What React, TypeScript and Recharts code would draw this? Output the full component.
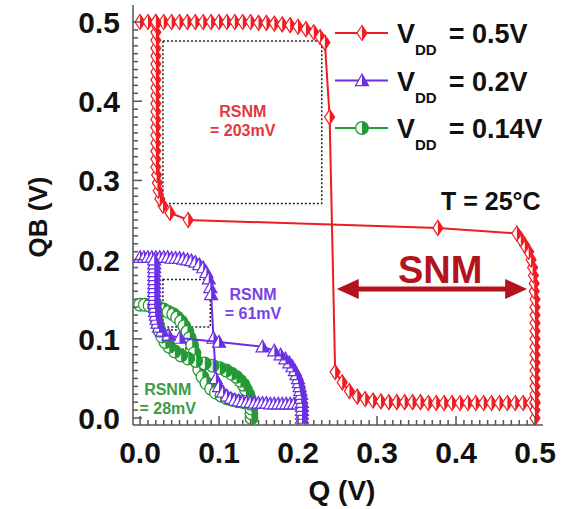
import { ScatterChart, Scatter, XAxis, YAxis, ReferenceArea, ReferenceLine, ReferenceDot, Legend } from "recharts";

const FONT = "'Liberation Sans', Arial, Helvetica, sans-serif";
const RED = "#ee1d23";
const PURPLE = "#6a2fe4";
const GREEN = "#249a36";
const SNM_RED = "#b3131c";
const FRAME = "#555555";

// axis ticks
const majorTicks = [0, 0.1, 0.2, 0.3, 0.4, 0.5];
const tickLabels = ["0.0", "0.1", "0.2", "0.3", "0.4", "0.5"];
const allTicks = Array.from({ length: 51 }, (_, i) => Math.round(i) / 100);
const X_DOMAIN = [-0.0089, 0.5101];
const Y_DOMAIN = [-0.0088, 0.5215];

// legend order
const vddLabels = ["0.5V", "0.2V", "0.14V"];

// VDD = 0.5V : QB = f(Q) and Q = g(QB)
const red1 = [
  [0, 0.5], [0.01, 0.5], [0.02, 0.5], [0.03, 0.5], [0.04, 0.5], [0.05, 0.5], [0.06, 0.5], [0.07, 0.5],
  [0.08, 0.5], [0.09, 0.5], [0.1, 0.5], [0.11, 0.5], [0.12, 0.5], [0.13, 0.5], [0.14, 0.5], [0.15, 0.499],
  [0.16, 0.499], [0.17, 0.498], [0.18, 0.497], [0.19, 0.496], [0.2, 0.494], [0.21, 0.491], [0.22, 0.487],
  [0.228, 0.481], [0.234, 0.474], [0.24, 0.38], [0.247, 0.058], [0.256, 0.045], [0.265, 0.034],
  [0.275, 0.027], [0.285, 0.024], [0.295, 0.022], [0.305, 0.021], [0.315, 0.02], [0.325, 0.02],
  [0.335, 0.02], [0.345, 0.02], [0.355, 0.02], [0.365, 0.019], [0.375, 0.019], [0.385, 0.019],
  [0.395, 0.019], [0.405, 0.019], [0.415, 0.019], [0.425, 0.019], [0.435, 0.019], [0.445, 0.019],
  [0.455, 0.019], [0.465, 0.019], [0.475, 0.019], [0.485, 0.019], [0.495, 0.019], [0.5, 0.019],
];
const red2 = [
  [0.5, 0], [0.5, 0.01], [0.5, 0.02], [0.5, 0.03], [0.5, 0.04], [0.5, 0.05], [0.5, 0.06], [0.5, 0.07],
  [0.5, 0.08], [0.5, 0.09], [0.5, 0.1], [0.5, 0.11], [0.5, 0.12], [0.5, 0.13], [0.5, 0.14], [0.5, 0.15],
  [0.499, 0.16], [0.499, 0.17], [0.498, 0.18], [0.497, 0.19], [0.495, 0.2], [0.492, 0.21], [0.487, 0.218],
  [0.482, 0.226], [0.477, 0.233], [0.377, 0.24], [0.061, 0.25], [0.038, 0.259], [0.029, 0.268],
  [0.025, 0.277], [0.023, 0.287], [0.022, 0.297], [0.021, 0.307], [0.02, 0.317], [0.02, 0.327],
  [0.02, 0.337], [0.02, 0.347], [0.02, 0.357], [0.02, 0.367], [0.02, 0.377], [0.02, 0.387], [0.02, 0.397],
  [0.02, 0.407], [0.02, 0.417], [0.02, 0.427], [0.02, 0.437], [0.02, 0.447], [0.02, 0.457], [0.02, 0.467],
  [0.02, 0.477], [0.02, 0.487], [0.02, 0.497], [0.02, 0.5],
];

// VDD = 0.2V
const purple1 = [
  [0, 0.203], [0.005, 0.203], [0.01, 0.203], [0.015, 0.203], [0.02, 0.203], [0.025, 0.203], [0.03, 0.203],
  [0.035, 0.203], [0.04, 0.202], [0.045, 0.202], [0.05, 0.202], [0.055, 0.201], [0.06, 0.2], [0.065, 0.199],
  [0.07, 0.197], [0.075, 0.194], [0.08, 0.19], [0.084, 0.184], [0.087, 0.176], [0.089, 0.165], [0.09, 0.156],
  [0.093, 0.101], [0.096, 0.05], [0.1, 0.04], [0.105, 0.033], [0.11, 0.028], [0.115, 0.025], [0.12, 0.023],
  [0.125, 0.022], [0.13, 0.021], [0.135, 0.02], [0.14, 0.02], [0.145, 0.019], [0.15, 0.019], [0.155, 0.019],
  [0.16, 0.019], [0.165, 0.018], [0.17, 0.018], [0.175, 0.018], [0.18, 0.018], [0.185, 0.018], [0.19, 0.018],
  [0.195, 0.018], [0.2, 0.018],
];
const purple2 = [
  [0.205, 0], [0.205, 0.005], [0.205, 0.01], [0.205, 0.015], [0.205, 0.02], [0.204, 0.025], [0.204, 0.03],
  [0.203, 0.035], [0.202, 0.04], [0.201, 0.045], [0.2, 0.05], [0.198, 0.055], [0.196, 0.06], [0.193, 0.065],
  [0.189, 0.07], [0.184, 0.075], [0.178, 0.08], [0.17, 0.085], [0.155, 0.09], [0.1, 0.096], [0.05, 0.101],
  [0.036, 0.105], [0.028, 0.11], [0.024, 0.115], [0.022, 0.12], [0.021, 0.125], [0.02, 0.13], [0.019, 0.135],
  [0.019, 0.14], [0.018, 0.145], [0.018, 0.15], [0.018, 0.155], [0.018, 0.16], [0.018, 0.165], [0.018, 0.17],
  [0.018, 0.175], [0.018, 0.18], [0.018, 0.185], [0.018, 0.19], [0.018, 0.195], [0.018, 0.2],
];

// VDD = 0.14V
const green1 = [
  [0, 0.143], [0.006, 0.143], [0.012, 0.142], [0.018, 0.141], [0.024, 0.139], [0.03, 0.137], [0.036, 0.134],
  [0.042, 0.131], [0.047, 0.127], [0.052, 0.122], [0.056, 0.116], [0.06, 0.109], [0.063, 0.101], [0.066, 0.092],
  [0.069, 0.082], [0.072, 0.071], [0.075, 0.061], [0.079, 0.052], [0.084, 0.044], [0.09, 0.037], [0.096, 0.032],
  [0.103, 0.028], [0.11, 0.025], [0.117, 0.023], [0.124, 0.021], [0.131, 0.02], [0.137, 0.019], [0.141, 0.019],
];
const green2 = [
  [0.141, 0], [0.141, 0.006], [0.141, 0.012], [0.14, 0.018], [0.139, 0.024], [0.137, 0.03], [0.134, 0.036],
  [0.131, 0.042], [0.127, 0.047], [0.122, 0.052], [0.116, 0.056], [0.109, 0.06], [0.101, 0.063], [0.092, 0.066],
  [0.082, 0.069], [0.071, 0.072], [0.061, 0.075], [0.052, 0.079], [0.044, 0.084], [0.037, 0.09], [0.032, 0.096],
  [0.028, 0.103], [0.025, 0.11], [0.023, 0.117], [0.021, 0.124], [0.02, 0.131], [0.019, 0.137], [0.019, 0.143],
];

// read SNM boxes [q1, q2, qb1, qb2]
const rsnmBoxes = [
  [0.029, 0.23, 0.271, 0.476],
  [0.029, 0.089, 0.115, 0.175],
  [0.034, 0.058, 0.087, 0.111],
];
const snmArrow = [0.249, 0.49, 0.163];

const annotations = [
  { q: 0.13, qb: 0.38, lines: ["RSNM", "= 203mV"], color: "#e3383e", size: 16 },
  { q: 0.143, qb: 0.149, lines: ["RSNM", "= 61mV"], color: "#7843e6", size: 16 },
  { q: 0.035, qb: 0.029, lines: ["RSNM", "= 28mV"], color: "#3c9c46", size: 16 },
  { q: 0.444, qb: 0.263, lines: ["T = 25°C"], color: "#111111", size: 25 },
  { q: 0.38, qb: 0.171, lines: ["SNM"], color: SNM_RED, size: 38 },
];

const toPts = (arr) => arr.map(([q, qb]) => ({ q, qb }));

const series = [
  { id: "r1", vdd: "0.5V", data: red1, color: RED, kind: "diamond", legend: true },
  { id: "r2", vdd: "0.5V", data: red2, color: RED, kind: "diamond", legend: false },
  { id: "g1", vdd: "0.14V", data: green1, color: GREEN, kind: "circle", legend: true },
  { id: "g2", vdd: "0.14V", data: green2, color: GREEN, kind: "circle", legend: false },
  { id: "p1", vdd: "0.2V", data: purple1, color: PURPLE, kind: "triangle", legend: true },
  { id: "p2", vdd: "0.2V", data: purple2, color: PURPLE, kind: "triangle", legend: false },
];

const Marker = ({ cx, cy, color, kind }) => {
  if (cx == null || cy == null) return null;
  if (kind === "diamond") {
    const w = 5, h = 7.5;
    return (
      <g>
        <path d={`M${cx},${cy - h}L${cx + w},${cy}L${cx},${cy + h}L${cx - w},${cy}Z`} fill="#fff" stroke={color} strokeWidth={1.2} />
        <path d={`M${cx},${cy - h}L${cx + w},${cy}L${cx},${cy + h}Z`} fill={color} />
      </g>
    );
  }
  if (kind === "triangle") {
    const s = 6.5;
    return (
      <g>
        <path d={`M${cx},${cy - s}L${cx + s},${cy + s * 0.8}L${cx - s},${cy + s * 0.8}Z`} fill="#fff" stroke={color} strokeWidth={1.2} />
        <path d={`M${cx},${cy - s}L${cx + s},${cy + s * 0.8}L${cx},${cy + s * 0.8}Z`} fill={color} />
      </g>
    );
  }
  const r = 6.3;
  return (
    <g>
      <circle cx={cx} cy={cy} r={r} fill="#fff" stroke={color} strokeWidth={1.3} />
      <path d={`M${cx},${cy - r}A${r},${r} 0 0 1 ${cx},${cy + r}Z`} fill={color} />
    </g>
  );
};

const isMajor = (v) => majorTicks.some((m) => Math.abs(m - v) < 1e-6);
const labelFor = (v) => tickLabels[majorTicks.findIndex((m) => Math.abs(m - v) < 1e-6)];

const XTick = ({ x, y, payload }) => {
  const major = isMajor(payload.value);
  return (
    <g>
      <line x1={x} x2={x} y1={y} y2={y - (major ? 9 : 5)} stroke={FRAME} strokeWidth={1.5} />
      {major && (
        <text x={x} y={y + 38} textAnchor="middle" fontSize={30} fontWeight="bold" fill="#111" fontFamily={FONT}>
          {labelFor(payload.value)}
        </text>
      )}
    </g>
  );
};

const YTick = ({ x, y, payload }) => {
  const major = isMajor(payload.value);
  return (
    <g>
      <line x1={x} x2={x + (major ? 9 : 5)} y1={y} y2={y} stroke={FRAME} strokeWidth={1.5} />
      {major && (
        <text x={x - 13} y={y + 11} textAnchor="end" fontSize={30} fontWeight="bold" fill="#111" fontFamily={FONT}>
          {labelFor(payload.value)}
        </text>
      )}
    </g>
  );
};

const renderLegend = () => {
  const items = vddLabels.map((v) => series.find((s) => s.legend && s.vdd === v));
  return (
    <svg width={247} height={175}>
      {items.map((s, i) => {
        const cy = 33 + i * 47.5;
        return (
          <g key={s.id}>
            <line x1={10} x2={63} y1={cy} y2={cy} stroke={s.color} strokeWidth={2} />
            <Marker cx={37} cy={cy} color={s.color} kind={s.kind} />
            <text x={72} y={cy + 10} fontFamily={FONT} fontWeight="bold" fontSize={27} fill="#111">
              V
              <tspan fontSize={15} dy={12}>DD</tspan>
              <tspan fontSize={27} dy={-12} dx={12}>= {s.vdd}</tspan>
            </text>
          </g>
        );
      })}
    </svg>
  );
};

const SnmArrow = ({ x1, y1, x2 }) => (
  <g>
    <line x1={x1 + 18} x2={x2 - 18} y1={y1} y2={y1} stroke={SNM_RED} strokeWidth={5} />
    <path d={`M${x1},${y1}L${x1 + 22},${y1 - 10}L${x1 + 22},${y1 + 10}Z`} fill={SNM_RED} />
    <path d={`M${x2},${y1}L${x2 - 22},${y1 - 10}L${x2 - 22},${y1 + 10}Z`} fill={SNM_RED} />
  </g>
);

export default function App() {
  return (
    <div style={{ position: "absolute", left: 0, top: 0, background: "#fff" }}>
      <ScatterChart width={572} height={509} margin={{ top: 5, right: 29, bottom: 0, left: 0 }}>
        <XAxis
          type="number"
          dataKey="q"
          domain={X_DOMAIN}
          allowDataOverflow
          ticks={allTicks}
          interval={0}
          tick={<XTick />}
          tickLine={false}
          tickSize={0}
          tickMargin={0}
          height={84}
          axisLine={{ stroke: FRAME, strokeWidth: 1.5 }}
          label={({ viewBox }) => (
            <text x={viewBox.x + viewBox.width / 2 + 4} y={viewBox.y + 75} textAnchor="middle" fontSize={28} fontWeight="bold" fill="#111" fontFamily={FONT}>
              Q (V)
            </text>
          )}
        />
        <XAxis xAxisId="top" orientation="top" type="number" domain={X_DOMAIN} allowDataOverflow height={0} tick={false} tickLine={false} axisLine={{ stroke: FRAME, strokeWidth: 1.5 }} />
        <YAxis
          type="number"
          dataKey="qb"
          domain={Y_DOMAIN}
          allowDataOverflow
          ticks={allTicks}
          interval={0}
          tick={<YTick />}
          tickLine={false}
          tickSize={0}
          tickMargin={0}
          width={133}
          axisLine={{ stroke: FRAME, strokeWidth: 1.5 }}
          label={({ viewBox }) => {
            const cy = viewBox.y + viewBox.height / 2 + 2;
            return (
              <text x={47} y={cy} transform={`rotate(-90, 47, ${cy})`} textAnchor="middle" fontSize={26} fontWeight="bold" fill="#111" fontFamily={FONT}>
                QB (V)
              </text>
            );
          }}
        />
        <YAxis yAxisId="right" orientation="right" type="number" domain={Y_DOMAIN} allowDataOverflow width={0} tick={false} tickLine={false} axisLine={{ stroke: FRAME, strokeWidth: 1.5 }} />

        {rsnmBoxes.map(([q1, q2, qb1, qb2], i) => (
          <ReferenceArea key={i} x1={q1} x2={q2} y1={qb1} y2={qb2} fill="none" stroke="#222" strokeWidth={1.5} strokeDasharray="2 2" />
        ))}

        {series.map((s) => (
          <Scatter
            key={s.id}
            name={s.id}
            data={toPts(s.data)}
            fill={s.color}
            line={{ stroke: s.color, strokeWidth: 2 }}
            legendType="none"
            shape={(p) => <Marker cx={p.cx} cy={p.cy} color={s.color} kind={s.kind} />}
            isAnimationActive={false}
          />
        ))}

        <ReferenceLine
          segment={[{ x: snmArrow[0], y: snmArrow[2] }, { x: snmArrow[1], y: snmArrow[2] }]}
          shape={(p) => <SnmArrow x1={p.x1} y1={p.y1} x2={p.x2} />}
        />

        {annotations.map((a, i) => (
          <ReferenceDot
            key={i}
            x={a.q}
            y={a.qb}
            r={0}
            shape={(p) => (
              <text x={p.cx} y={p.cy} textAnchor="middle" fontFamily={FONT} fontWeight="bold" fontSize={a.size} fill={a.color}>
                {a.lines.map((t, j) => (
                  <tspan key={j} x={p.cx} dy={j === 0 ? 0 : a.size * 1.2}>{t}</tspan>
                ))}
              </text>
            )}
          />
        ))}

        <Legend layout="vertical" align="center" verticalAlign="middle" wrapperStyle={{ left: 325, top: 0, width: 247, height: 175 }} content={renderLegend} />
      </ScatterChart>
    </div>
  );
}
